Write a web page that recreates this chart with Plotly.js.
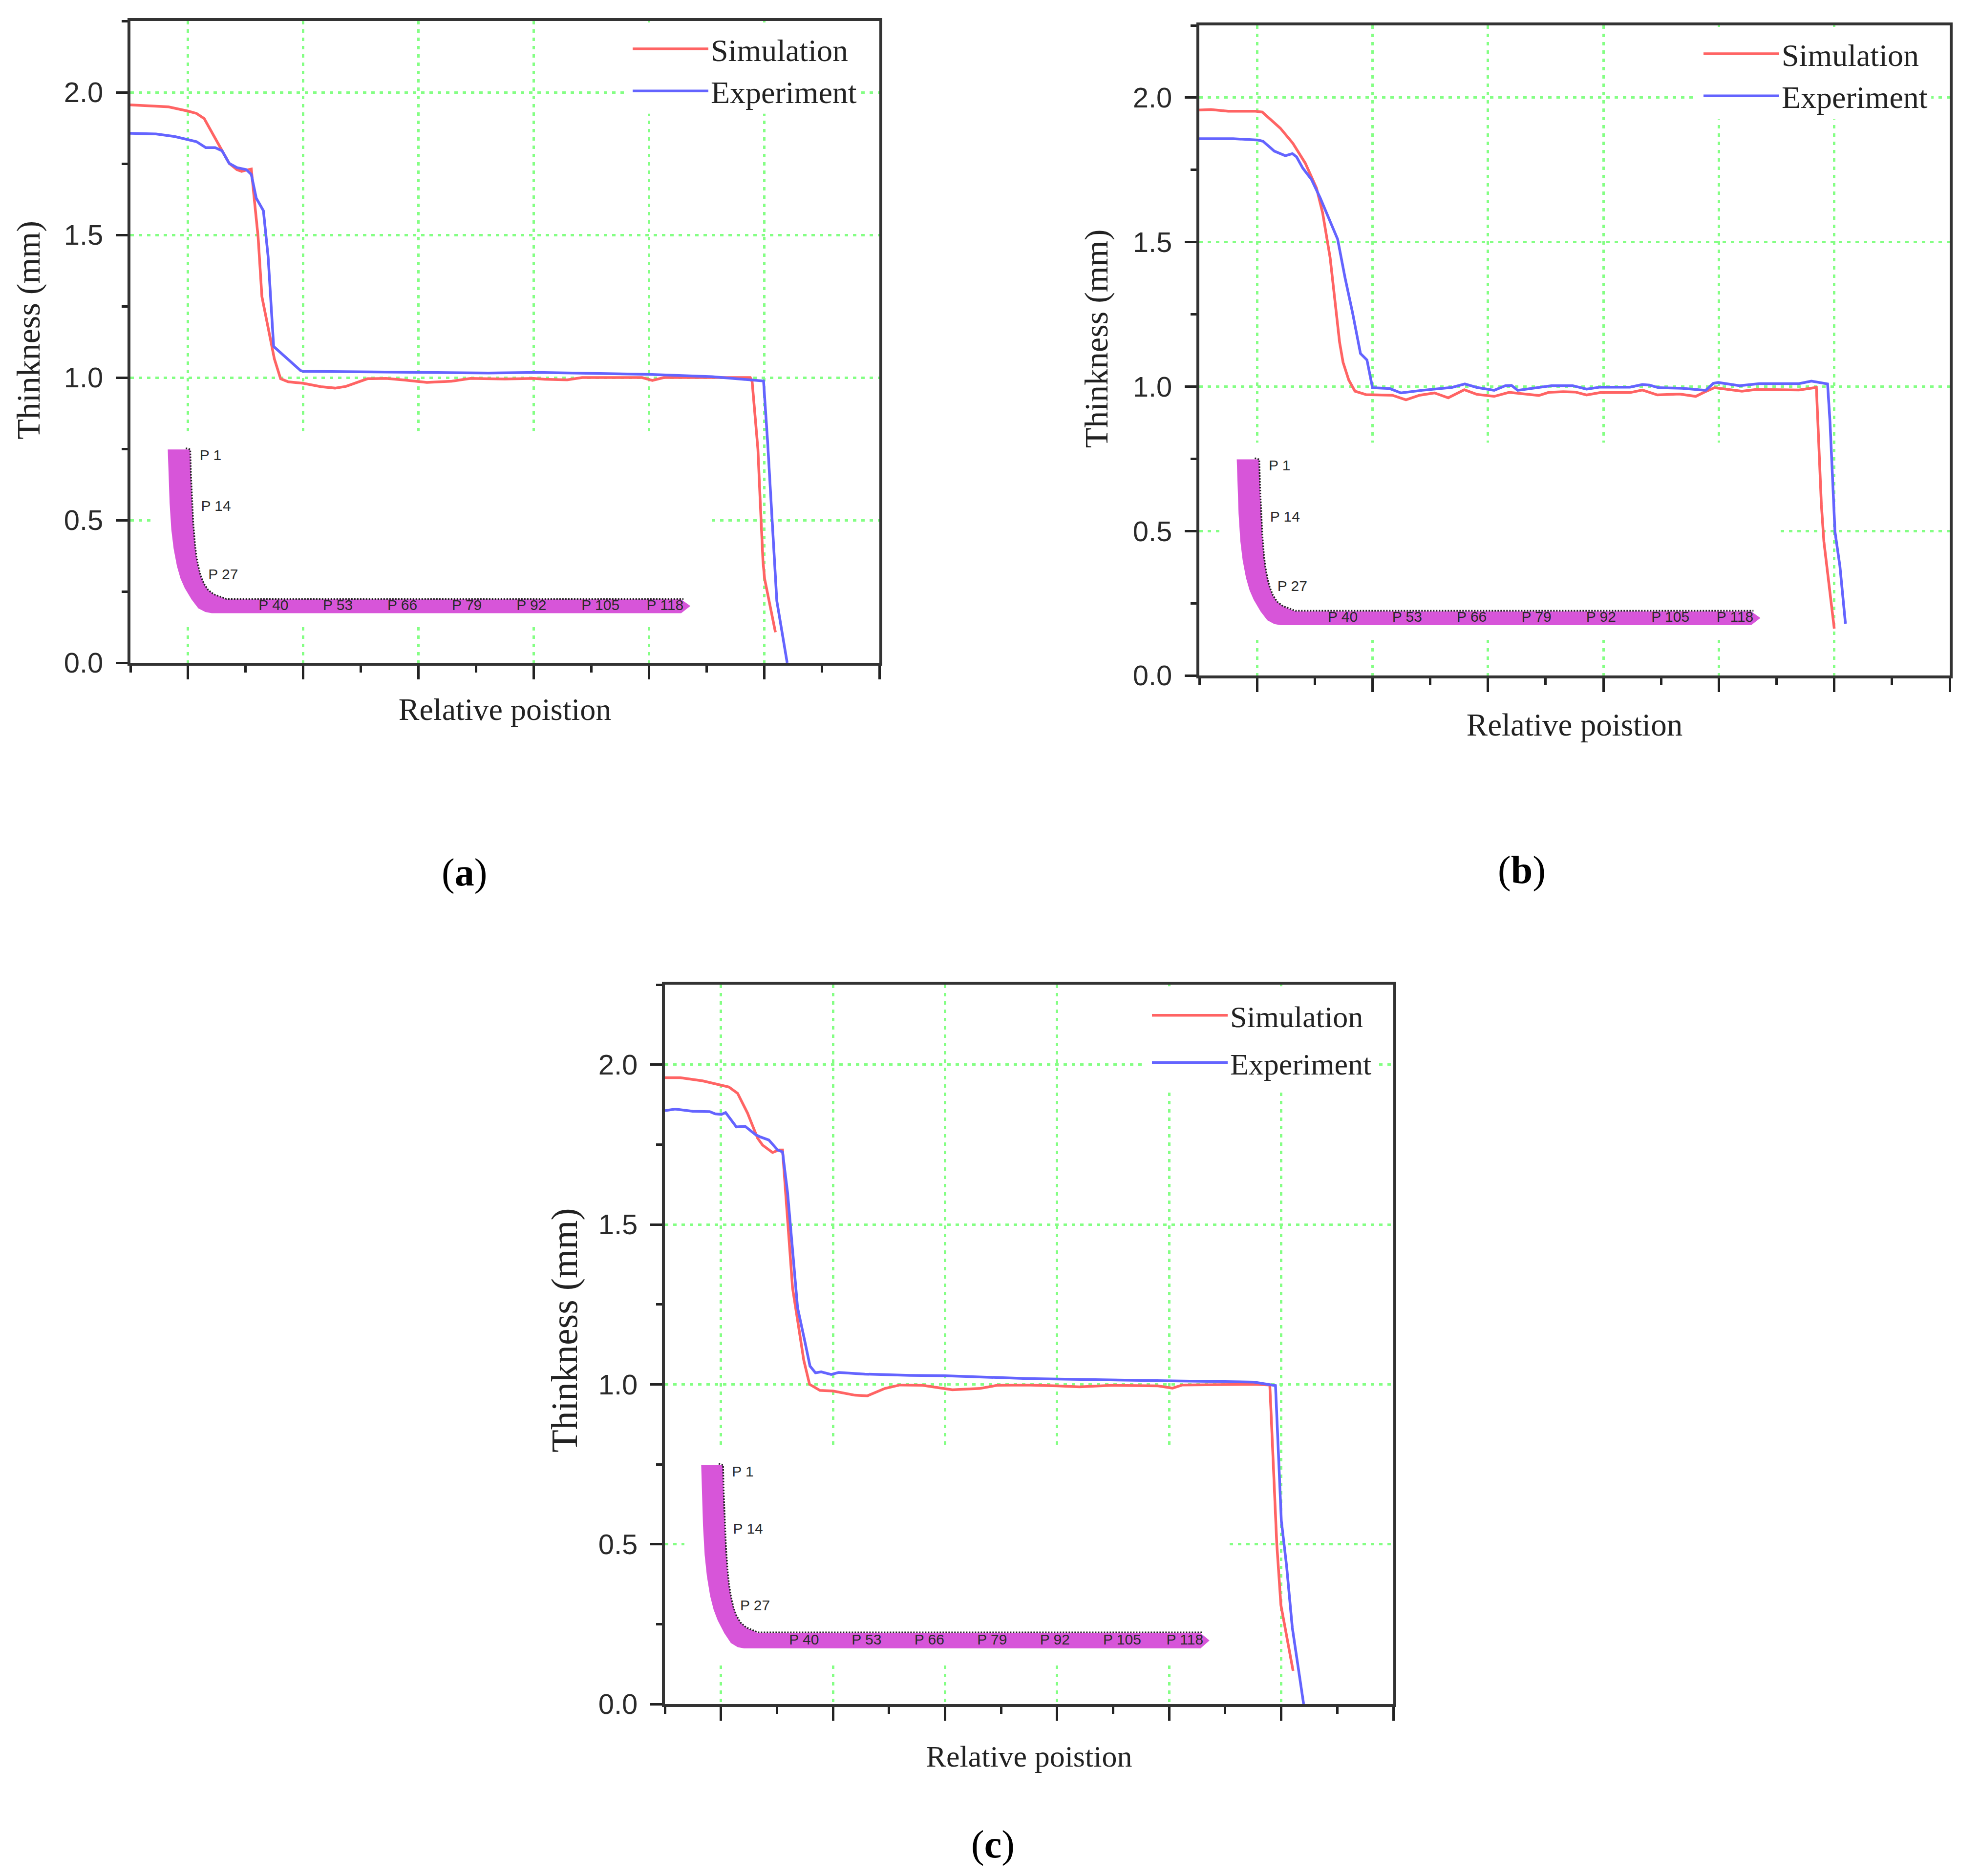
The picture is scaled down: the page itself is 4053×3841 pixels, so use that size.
<!DOCTYPE html>
<html>
<head>
<meta charset="utf-8">
<script src="https://cdn.plot.ly/plotly-3.0.1.min.js"></script>
<style>html,body{margin:0;padding:0;background:#fff}</style>
</head>
<body>
<div id="chart" style="width:4053px;height:3841px"></div>
<script>
// ---------- data (x: relative position, y: thickness in mm) ----------
const simA_x = [-0.5,-0.17,0,0.073,0.14,0.208,0.289,0.357,0.424,0.465,0.505,0.549,0.573,0.608,0.641,0.695,0.749,0.803,0.87,1,1.154,1.276,1.37,1.559,1.72,1.884,2.073,2.289,2.451,2.75,3.0,3.095,3.29,3.42,3.94,4.03,4.13,4.55,4.88,4.896,4.946,4.967,4.99,5.004,5.098];
const simA_y = [1.956,1.949,1.934,1.926,1.908,1.86,1.799,1.751,1.729,1.723,1.727,1.731,1.633,1.493,1.284,1.17,1.066,0.996,0.985,0.98,0.968,0.963,0.969,0.996,0.997,0.991,0.983,0.987,0.997,0.995,0.997,0.994,0.992,1,1,0.99,1,1,1,0.985,0.749,0.557,0.356,0.295,0.107];
const expA_x = [-0.5,-0.278,-0.116,0,0.073,0.154,0.235,0.295,0.357,0.424,0.505,0.549,0.592,0.654,0.695,0.743,0.978,1,1.614,2.608,3.03,4,4.55,4.76,4.89,4.995,5.03,5.076,5.11,5.2];
const expA_y = [1.856,1.854,1.845,1.834,1.827,1.806,1.806,1.795,1.751,1.736,1.729,1.712,1.629,1.585,1.424,1.109,1.024,1.022,1.02,1.016,1.018,1.011,1.003,0.996,0.99,0.988,0.776,0.47,0.217,0];
const simB_x = [-0.5,-0.4,-0.25,-0.013,0.045,0.202,0.31,0.418,0.515,0.568,0.633,0.676,0.715,0.745,0.794,0.848,0.945,1.171,1.29,1.408,1.537,1.656,1.795,1.903,2.054,2.183,2.29,2.441,2.527,2.652,2.757,2.854,2.972,3.23,3.338,3.467,3.66,3.8,3.876,3.962,4.2,4.328,4.694,4.845,4.856,4.888,4.91,5];
const simB_y = [1.957,1.959,1.953,1.953,1.95,1.894,1.842,1.773,1.687,1.601,1.446,1.282,1.153,1.084,1.023,0.984,0.972,0.97,0.954,0.97,0.978,0.961,0.989,0.973,0.966,0.98,0.976,0.969,0.98,0.982,0.981,0.971,0.979,0.979,0.988,0.971,0.974,0.966,0.981,0.996,0.984,0.99,0.988,0.997,0.895,0.593,0.464,0.162];
const expB_x = [-0.5,-0.207,0.009,0.052,0.149,0.245,0.306,0.342,0.396,0.471,0.547,0.622,0.698,0.762,0.827,0.896,0.952,1,1.15,1.246,1.43,1.688,1.8,1.903,2.054,2.151,2.204,2.258,2.463,2.549,2.652,2.735,2.854,2.972,3.23,3.338,3.4,3.478,3.682,3.887,3.952,3.995,4.178,4.35,4.694,4.802,4.942,4.963,5.006,5.049,5.097];
const expB_y = [1.858,1.858,1.853,1.849,1.815,1.799,1.806,1.795,1.756,1.717,1.653,1.584,1.51,1.377,1.256,1.114,1.092,0.996,0.993,0.978,0.987,0.997,1.009,0.997,0.987,1.003,1.004,0.987,0.997,1.003,1.003,1.003,0.991,0.998,0.998,1.007,1.005,0.996,0.994,0.987,1.011,1.014,1.003,1.01,1.01,1.019,1.009,0.878,0.498,0.378,0.179];
const simC_x = [-0.5,-0.363,-0.163,0,0.071,0.149,0.238,0.327,0.372,0.461,0.517,0.55,0.595,0.639,0.684,0.739,0.791,0.884,1,1.196,1.307,1.463,1.597,1.797,2.065,2.31,2.465,2.728,3,3.2,3.5,3.9,4.03,4.118,4.757,4.898,4.91,4.96,4.997,5.106];
const simC_y = [1.959,1.959,1.949,1.936,1.93,1.91,1.848,1.77,1.748,1.725,1.733,1.733,1.521,1.302,1.201,1.076,1,0.981,0.979,0.966,0.964,0.987,0.998,0.997,0.983,0.987,0.997,0.998,0.995,0.992,0.997,0.995,0.988,0.998,1,0.998,0.906,0.503,0.31,0.104];
const expC_x = [-0.5,-0.408,-0.252,-0.1,-0.051,0.004,0.042,0.138,0.216,0.305,0.35,0.428,0.506,0.55,0.595,0.639,0.684,0.751,0.795,0.844,0.895,0.984,1.051,1.285,1.686,2,2.354,2.728,4.03,4.757,4.949,4.975,5.001,5.048,5.099,5.2];
const expC_y = [1.856,1.861,1.854,1.853,1.846,1.844,1.85,1.805,1.807,1.782,1.774,1.764,1.733,1.727,1.599,1.419,1.24,1.131,1.057,1.036,1.039,1.031,1.037,1.032,1.028,1.027,1.022,1.018,1.011,1.007,0.996,0.766,0.573,0.432,0.239,0];

// inset: section of the sheet, in the same axis units
const insetBody_x = [-0.176,-0.17,-0.16,-0.145,-0.125,-0.096,-0.065,-0.029,0.03,0.089,0.15,0.206,4.28,4.36,4.28,0.44,0.333,0.224,0.175,0.138,0.11,0.089,0.072,0.06,0.045,0.035,0.025,0.019,-0.176];
const insetBody_y = [0.748,0.66,0.56,0.466,0.4,0.338,0.295,0.262,0.222,0.191,0.178,0.174,0.174,0.199,0.222,0.222,0.222,0.24,0.255,0.277,0.305,0.338,0.375,0.415,0.49,0.567,0.66,0.748,0.748];
const insetEdge_x = [-0.02,0.019,0.025,0.035,0.045,0.06,0.072,0.089,0.11,0.138,0.175,0.224,0.333,0.44,4.3];
const insetEdge_y = [0.752,0.748,0.66,0.567,0.49,0.415,0.375,0.338,0.305,0.277,0.255,0.24,0.224,0.224,0.224];
const insetLabels = ['P 1','P 14','P 27','P 40','P 53','P 66','P 79','P 92','P 105','P 118'];
const insetLabel_x = [0.195,0.242,0.305,0.742,1.3,1.86,2.42,2.98,3.58,4.14];
const insetLabel_y = [0.723,0.545,0.305,0.198,0.198,0.198,0.198,0.198,0.198,0.198];

// white patches of the pasted inset and of the legend (they hide the grid)
const insetMask_x = [-0.326,4.52,4.52,-0.326,-0.326];
const insetMask_y = [0.128,0.128,0.806,0.806,0.128];
const legendMask_x = [3.788,5.84,5.84,3.788,3.788];
const legendMask_y = [1.925,1.925,2.245,2.245,1.925];

const seriesNames = ['Simulation','Experiment'];
const captions = ['a','b','c'];
const xTitle = 'Relative poistion';
const yTitle = 'Thinkness (mm)';

// ---------- page geometry ----------
const W = 4053, H = 3841;
const RED = '#ff6464', BLUE = '#6464ff', GRID = '#84ff84', INK = '#222222';
const panels = [
  {sx:simA_x, sy:simA_y, ex:expA_x, ey:expA_y, L:267,  R:1800, T:43,   B:1357, lx:1290, ly:52,  gap:0,  xf:64, xs:41, yf:68, ys:29, ls:64, cap:[950,1786],  shift:-24},
  {sx:simB_x, sy:simB_y, ex:expB_x, ey:expB_y, L:2455, R:3991, T:52,   B:1383, lx:3482, ly:62,  gap:0,  xf:65, xs:46, yf:68, ys:31, ls:64, cap:[3115,1782], shift:-24},
  {sx:simC_x, sy:simC_y, ex:expC_x, ey:expC_y, L:1361, R:2852, T:2016, B:3489, lx:2353, ly:2032,gap:13, xf:62, xs:54, yf:76, ys:20, ls:62, cap:[2032,3776], shift:-29}
];

const traces = [], layout = {
  width:W, height:H, autosize:false, margin:{l:0,r:0,t:0,b:0},
  paper_bgcolor:'#fff', plot_bgcolor:'#fff', annotations:[], showlegend:true
};
panels.forEach((p,i)=>{
  const n = i===0?'':String(i+1), xa='x'+n, ya='y'+n, lg='legend'+n;
  const base = {xaxis:xa, yaxis:ya, hoverinfo:'skip', showlegend:false};
  traces.push({...base, x:insetMask_x, y:insetMask_y, mode:'lines', fill:'toself', fillcolor:'#fff', line:{width:0,color:'#fff'}});
  traces.push({...base, x:legendMask_x, y:legendMask_y, mode:'lines', fill:'toself', fillcolor:'#fff', line:{width:0,color:'#fff'}});
  traces.push({...base, x:insetBody_x, y:insetBody_y, mode:'lines', fill:'toself', fillcolor:'#d755d9', line:{width:0,color:'#d755d9'}});
  traces.push({...base, x:insetEdge_x, y:insetEdge_y, mode:'lines', line:{color:'#222',width:3.5,dash:'3px,3px'}});
  traces.push({...base, x:insetLabel_x, y:insetLabel_y, mode:'text', text:insetLabels, textposition:'middle center',
    textfont:{family:'Liberation Sans',size:30,color:'#2a2a2a'}});
  traces.push({x:p.sx, y:p.sy, xaxis:xa, yaxis:ya, name:seriesNames[0], mode:'lines', legend:lg, legendgroup:'s',
    line:{color:RED,width:5.5}, hoverinfo:'skip'});
  traces.push({x:p.ex, y:p.ey, xaxis:xa, yaxis:ya, name:seriesNames[1], mode:'lines', legend:lg, legendgroup:'e',
    line:{color:BLUE,width:5.5}, hoverinfo:'skip'});
  layout['xaxis'+n] = {
    domain:[p.L/W,p.R/W], range:[-0.5,6], anchor:ya, tick0:0, dtick:1, ticks:'outside', ticklen:28, tickwidth:5, tickcolor:INK,
    showticklabels:false, showline:true, linecolor:'#333', linewidth:6, mirror:true, zeroline:false,
    showgrid:true, gridcolor:GRID, gridwidth:5, griddash:'7px,10px',
    minor:{dtick:0.5, tick0:0, ticks:'outside', ticklen:14, tickwidth:5, tickcolor:INK, showgrid:false},
    title:{text:xTitle, font:{family:'Liberation Serif',size:p.xf,color:INK}, standoff:p.xs}
  };
  layout['yaxis'+n] = {
    domain:[1-p.B/H,1-p.T/H], range:[0,2.25], anchor:xa, tick0:0, dtick:0.5, tickformat:'.1f', ticks:'outside', ticklen:24, tickwidth:5, tickcolor:INK,
    tickfont:{family:'Liberation Sans',size:58,color:'#2a2a2a'}, ticklabelstandoff:14,
    showline:true, linecolor:'#333', linewidth:6, mirror:true, zeroline:false,
    showgrid:true, gridcolor:GRID, gridwidth:5, griddash:'7px,10px',
    minor:{dtick:0.25, tick0:0, ticks:'outside', ticklen:12, tickwidth:5, tickcolor:INK, showgrid:false},
    title:{text:yTitle, font:{family:'Liberation Serif',size:p.yf,color:INK}, standoff:p.ys}
  };
  layout[lg] = {
    x:p.lx/W, y:1-p.ly/H, xanchor:'left', yanchor:'top', bgcolor:'rgba(0,0,0,0)', borderwidth:0,
    itemwidth:155, tracegroupgap:p.gap, traceorder:'grouped', itemclick:false, itemdoubleclick:false,
    font:{family:'Liberation Serif',size:p.ls,color:INK}
  };
  layout.annotations.push({
    xref:'paper', yref:'paper', x:p.cap[0]/W, y:1-p.cap[1]/H, xanchor:'center', yanchor:'middle', showarrow:false,
    text:'(<b>'+captions[i]+'</b>)', font:{family:'Liberation Serif',size:80,color:'#000'}
  });
});

Plotly.newPlot('chart', traces, layout, {displayModeBar:false, staticPlot:true}).then(gd=>{
  // the y titles sit a little above the axis centre in the reference
  panels.forEach((p,i)=>{
    const n = i===0?'':String(i+1);
    const g = gd.querySelector('.g-y'+n+'title');
    if (g) g.setAttribute('transform','translate(0,'+p.shift+')');
  });
});
</script>
</body>
</html>
